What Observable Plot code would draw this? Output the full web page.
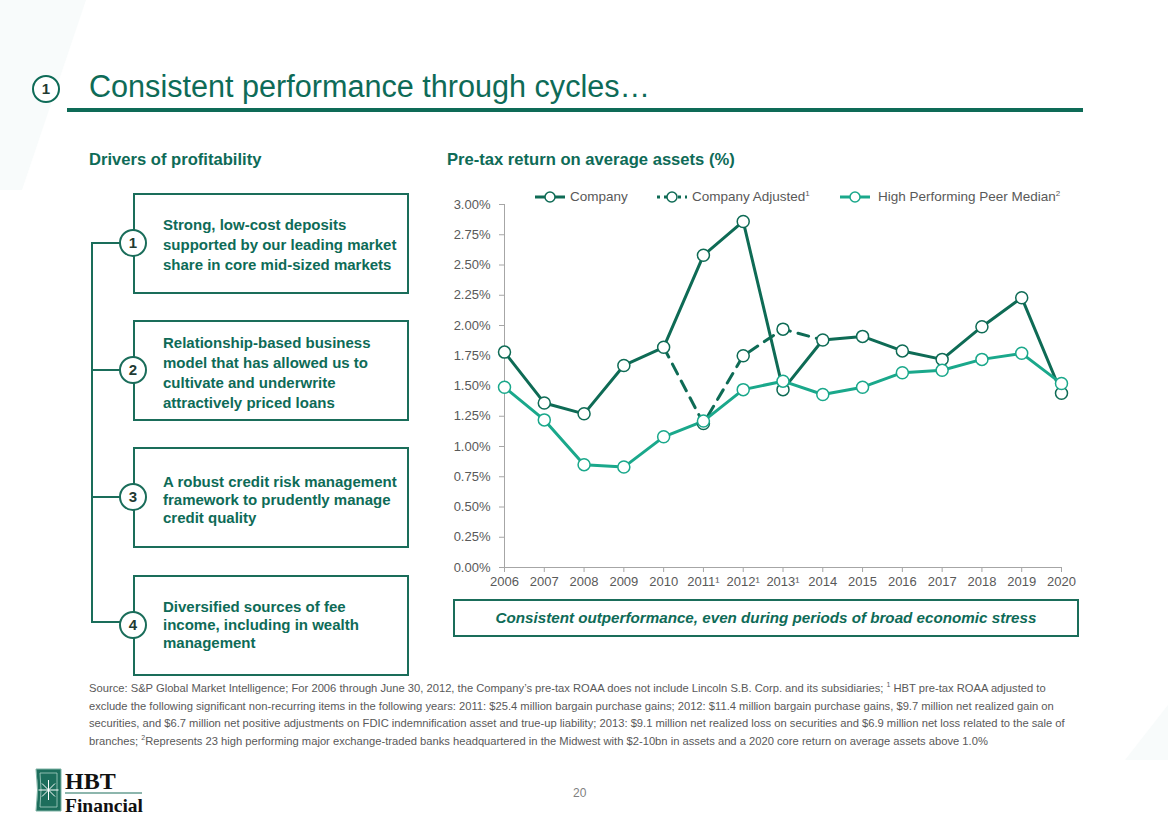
<!DOCTYPE html>
<html>
<head>
<meta charset="utf-8">
<script src="https://cdn.jsdelivr.net/npm/d3@7"></script>
<script src="https://cdn.jsdelivr.net/npm/@observablehq/plot@0.6"></script>
<style>
  html, body { margin: 0; padding: 0; background: #fff; }
  body { width: 1168px; height: 826px; position: relative; overflow: hidden; font-family: "Liberation Sans", Arial, sans-serif; }
  .abs { position: absolute; }
  .title { left: 89px; top: 69px; font-size: 30.6px; color: #0e6b57; white-space: nowrap; }
  .num-ring { width: 24px; height: 24px; border: 2px solid #0e6b57; border-radius: 50%; background: #fff;
              text-align: center; line-height: 24px; font-weight: bold; font-size: 15px; color: #1f3b33; }
  .rule { left: 67px; top: 108px; width: 1016px; height: 4px; background: #0e6b57; }
  .section { font-weight: bold; font-size: 16.6px; color: #0e6b57; white-space: nowrap; }
  .box { border: 2px solid #1a6d5a; box-sizing: border-box; }
  .boxtext { font-weight: bold; font-size: 15px; color: #0e6b57; line-height: 20px; white-space: nowrap; }
  .legend { font-size: 13.5px; color: #595959; white-space: nowrap; }
  .foot { left: 89px; top: 680px; font-size: 11.2px; color: #595959; line-height: 17.5px; white-space: nowrap; }
  .foot sup, .legend sup { line-height: 0; }
</style>
</head>
<body>
<script>
// ---------- data ----------
const years = [2006, 2007, 2008, 2009, 2010, 2011, 2012, 2013, 2014, 2015, 2016, 2017, 2018, 2019, 2020];
const yearLabels = ["2006", "2007", "2008", "2009", "2010", "2011¹", "2012¹", "2013¹", "2014", "2015", "2016", "2017", "2018", "2019", "2020"];
const company = [1.78, 1.36, 1.27, 1.67, 1.82, 2.58, 2.86, 1.47, 1.88, 1.91, 1.79, 1.72, 1.99, 2.23, 1.44];
const adjustedYears = [2010, 2011, 2012, 2013, 2014];
const companyAdjusted = [1.82, 1.19, 1.75, 1.97, 1.88];
const peer = [1.49, 1.22, 0.85, 0.83, 1.08, 1.21, 1.47, 1.54, 1.43, 1.49, 1.61, 1.63, 1.72, 1.77, 1.52];
const yTicks = [0, 0.25, 0.5, 0.75, 1, 1.25, 1.5, 1.75, 2, 2.25, 2.5, 2.75, 3];
const seriesNames = ["Company", "Company Adjusted", "High Performing Peer Median"];
const drivers = [
  ["Strong, low-cost deposits", "supported by our leading market", "share in core mid-sized markets"],
  ["Relationship-based business", "model that has allowed us to", "cultivate and underwrite", "attractively priced loans"],
  ["A robust credit risk management", "framework to prudently manage", "credit quality"],
  ["Diversified sources of fee", "income, including in wealth", "management"]
];
</script>

<!-- faint background shapes -->
<svg class="abs" style="left:0;top:0" width="1168" height="826">
  <polygon points="0,0 86,0 22,190 0,190" fill="#f8fbfb"/>
  <polygon points="1168,705 1168,760 1125,760" fill="#f8fbfb"/>
</svg>

<!-- title -->
<div class="abs num-ring" style="left:32px;top:75px;">1</div>
<div class="abs title">Consistent performance through cycles…</div>
<div class="abs rule"></div>

<div class="abs section" style="left:89px;top:150px;">Drivers of profitability</div>
<div class="abs section" style="left:447px;top:150px;">Pre-tax return on average assets (%)</div>

<!-- bracket -->
<svg class="abs" style="left:0;top:0" width="140" height="700">
  <path d="M121,243 H92 V622 H121 M92,370 H121 M92,497 H121" fill="none" stroke="#1a6d5a" stroke-width="2"/>
</svg>
<div id="drivers"></div>

<!-- chart -->
<div id="chart" class="abs" style="left:440px;top:185px;"></div>

<!-- legend -->
<svg class="abs" style="left:530px;top:188px" width="350" height="20">
  <line x1="5" y1="9" x2="35" y2="9" stroke="#0e6b55" stroke-width="3"/>
  <circle cx="20" cy="9" r="5" fill="#fff" stroke="#0e6b55" stroke-width="1.5"/>
  <line x1="127" y1="9" x2="157" y2="9" stroke="#0e6b55" stroke-width="3" stroke-dasharray="3,4"/>
  <circle cx="142" cy="9" r="5" fill="#fff" stroke="#0e6b55" stroke-width="1.5"/>
  <line x1="310" y1="9" x2="340" y2="9" stroke="#1aa88b" stroke-width="3"/>
  <circle cx="325" cy="9" r="5" fill="#fff" stroke="#1aa88b" stroke-width="1.5"/>
</svg>
<div class="abs legend" style="left:570px;top:189px;">Company</div>
<div class="abs legend" style="left:692px;top:189px;">Company Adjusted<sup style="font-size:8px">1</sup></div>
<div class="abs legend" style="left:878px;top:189px;">High Performing Peer Median<sup style="font-size:8px">2</sup></div>

<!-- callout -->
<div class="abs box" style="left:453px;top:599px;width:626px;height:38px;"></div>
<div class="abs" style="left:453px;top:609px;width:626px;text-align:center;font-weight:bold;font-style:italic;font-size:15.2px;color:#0e6b57;">Consistent outperformance, even during periods of broad economic stress</div>

<!-- footnote -->
<div class="abs foot">
Source: S&amp;P Global Market Intelligence; For 2006 through June 30, 2012, the Company’s pre-tax ROAA does not include Lincoln S.B. Corp. and its subsidiaries; <sup style="font-size:7px">1</sup> HBT pre-tax ROAA adjusted to<br>
exclude the following significant non-recurring items in the following years: 2011: $25.4 million bargain purchase gains; 2012: $11.4 million bargain purchase gains, $9.7 million net realized gain on<br>
securities, and $6.7 million net positive adjustments on FDIC indemnification asset and true-up liability; 2013: $9.1 million net realized loss on securities and $6.9 million net loss related to the sale of<br>
branches; <sup style="font-size:7px">2</sup>Represents 23 high performing major exchange-traded banks headquartered in the Midwest with $2-10bn in assets and a 2020 core return on average assets above 1.0%
</div>

<!-- logo -->
<svg class="abs" style="left:34px;top:766px" width="115" height="54">
  <path d="M2,3 H27 V45 H2 Q5,24 2,3 Z" fill="#1d6e5c" stroke="#7fb3a5" stroke-width="1"/>
  <path d="M6,7 H23 V41 H6 Q8,24 6,7 Z" fill="none" stroke="#a9d1c5" stroke-width="0.8"/>
  <g stroke="#fff" stroke-width="1">
    <line x1="14.5" y1="14" x2="14.5" y2="34"/>
    <line x1="4.5" y1="24" x2="24.5" y2="24"/>
    <line x1="8" y1="17.5" x2="21" y2="30.5"/>
    <line x1="21" y1="17.5" x2="8" y2="30.5"/>
  </g>
  <text x="31" y="23" font-family="Liberation Serif, serif" font-weight="bold" font-size="24" fill="#111">HBT</text>
  <line x1="31" y1="27" x2="108" y2="27" stroke="#1d6e5c" stroke-width="1.2"/>
  <text x="31" y="46" font-family="Liberation Serif, serif" font-weight="bold" font-size="19.5" fill="#111">Financial</text>
</svg>

<div class="abs" style="left:573px;top:786px;font-size:12px;color:#7f7f7f;">20</div>

<script>
// driver boxes
const boxTops = [193, 320, 447, 575];
const boxTextTops = [214, 332, 472, 597];
const lineHeights = [20, 20, 18, 18];
const container = document.getElementById("drivers");
drivers.forEach((lines, i) => {
  const top = boxTops[i];
  const b = document.createElement("div");
  b.className = "abs box";
  Object.assign(b.style, {left: "133px", top: top + "px", width: "276px", height: "101px"});
  container.appendChild(b);
  const ring = document.createElement("div");
  ring.className = "abs num-ring";
  ring.textContent = String(i + 1);
  const cy = top + 50;
  Object.assign(ring.style, {left: (133 - 14) + "px", top: (cy - 14) + "px", borderColor: "#1a6d5a"});
  container.appendChild(ring);
  const t = document.createElement("div");
  t.className = "abs boxtext";
  t.innerHTML = lines.join("<br>");
  Object.assign(t.style, {left: "163px", top: (boxTextTops[i] + 1) + "px", lineHeight: lineHeights[i] + "px"});
  container.appendChild(t);
});

// chart data tables
const dark = "#0e6b55";
const teal = "#1aa88b";
const companyData = years.map((y, i) => ({year: y, value: company[i], series: seriesNames[0]}));
const adjustedData = adjustedYears.map((y, i) => ({year: y, value: companyAdjusted[i], series: seriesNames[1]}));
const peerData = years.map((y, i) => ({year: y, value: peer[i], series: seriesNames[2]}));
const adjustedDots = adjustedData.filter(d => d.year > 2010 && d.year < 2014);

const chart = Plot.plot({
  width: 650,
  height: 410,
  marginLeft: 64,
  marginRight: 29,
  marginTop: 19,
  marginBottom: 28,
  style: {fontFamily: "Liberation Sans, Arial, sans-serif", fontSize: "13px", background: "transparent"},
  x: {domain: [2006, 2020]},
  y: {domain: [0, 3]},
  marks: [
    Plot.axisY({ticks: yTicks, tickSize: 5, tickPadding: 9, tickFormat: d => d.toFixed(2) + "%", stroke: "#a6a6a6", fill: "#595959", label: null}),
    Plot.axisX({ticks: years, tickSize: 5, tickPadding: 4, tickFormat: d => yearLabels[years.indexOf(d)], stroke: "#a6a6a6", fill: "#595959", label: null}),
    Plot.ruleX([2006], {y1: 0, y2: 3, stroke: "#a6a6a6"}),
    Plot.ruleY([0], {stroke: "#a6a6a6"}),
    Plot.line(adjustedData, {x: "year", y: "value", stroke: dark, strokeWidth: 3, strokeDasharray: "11,8"}),
    Plot.line(companyData, {x: "year", y: "value", stroke: dark, strokeWidth: 3}),
    Plot.line(peerData, {x: "year", y: "value", stroke: teal, strokeWidth: 3}),
    Plot.dot(companyData, {x: "year", y: "value", r: 6, fill: "#fff", stroke: dark, strokeWidth: 1.5}),
    Plot.dot(adjustedDots, {x: "year", y: "value", r: 6, fill: "#fff", stroke: dark, strokeWidth: 1.5}),
    Plot.dot(peerData, {x: "year", y: "value", r: 6, fill: "#fff", stroke: teal, strokeWidth: 1.5})
  ]
});
document.getElementById("chart").appendChild(chart);
</script>
</body>
</html>
